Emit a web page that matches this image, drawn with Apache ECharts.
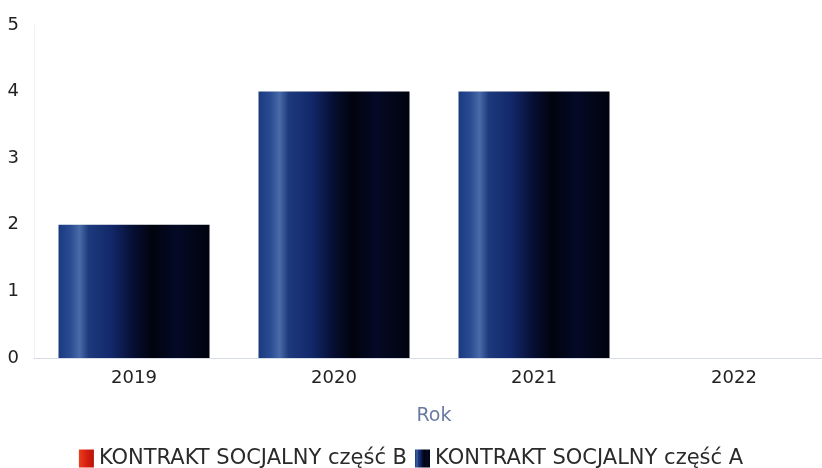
<!DOCTYPE html>
<html><head><meta charset="utf-8">
<script src="https://cdn.jsdelivr.net/npm/echarts@6/dist/echarts.min.js"></script>
<style>html,body{margin:0;padding:0;background:#fff}#c{width:822px;height:468px}</style>
</head><body><div id="c"></div>
<script>
const categories = ['2019', '2020', '2021', '2022'];
const seriesBName = 'KONTRAKT SOCJALNY część B';
const seriesBValues = [0, 0, 0, 0];
const seriesAName = 'KONTRAKT SOCJALNY część A';
const seriesAValues = [2, 4, 4, 0];
const yTicks = [0, 1, 2, 3, 4, 5];

const blueGrad = new echarts.graphic.LinearGradient(0, 0, 1, 0, [
  {offset: 0, color: '#1a3a80'},
  {offset: 0.08, color: '#2a4c92'},
  {offset: 0.14, color: '#4a6aa8'},
  {offset: 0.2, color: '#1d3a7c'},
  {offset: 0.35, color: '#12286a'},
  {offset: 0.5, color: '#060e30'},
  {offset: 0.62, color: '#01030e'},
  {offset: 0.78, color: '#040a26'},
  {offset: 1, color: '#01030e'}
]);
const redGrad = new echarts.graphic.LinearGradient(0, 0, 1, 0, [
  {offset: 0, color: '#e8401c'},
  {offset: 0.5, color: '#d82010'},
  {offset: 1, color: '#b81208'}
]);

const FONT = 'DejaVu Sans';
const chart = echarts.init(document.getElementById('c'));
chart.setOption({
  animation: false,
  grid: {left: 34, width: 800, top: 25, bottom: 110, outerBoundsMode: 'none', containLabel: false},
  legend: {
    top: 443, left: 'center', itemGap: 8, itemWidth: 15, itemHeight: 18,
    icon: 'rect',
    textStyle: {fontFamily: FONT, fontSize: 21, color: '#2a2a2a'},
    data: [seriesBName, seriesAName]
  },
  xAxis: {
    type: 'category', data: categories,
    name: 'Rok', nameLocation: 'middle', nameGap: 49,
    nameTextStyle: {fontFamily: FONT, fontSize: 19, color: '#6a7aa0'},
    axisLine: {lineStyle: {color: '#d8dce6'}},
    axisTick: {show: false},
    axisLabel: {fontFamily: FONT, fontSize: 18, color: '#222', margin: 11}
  },
  yAxis: {
    type: 'value', min: 0, max: 5, interval: 1,
    axisLine: {show: true, lineStyle: {color: '#f2f2f2'}},
    splitLine: {show: false},
    axisLabel: {fontFamily: FONT, fontSize: 18, color: '#222', margin: 15,
      formatter: v => yTicks.includes(v) ? String(v) : ''}
  },
  series: [
    {name: seriesBName, type: 'bar', stack: 's', data: seriesBValues, barWidth: '75.5%',
      itemStyle: {color: redGrad}},
    {name: seriesAName, type: 'bar', stack: 's', data: seriesAValues, barWidth: '75.5%',
      itemStyle: {color: blueGrad}}
  ]
});
</script></body></html>
